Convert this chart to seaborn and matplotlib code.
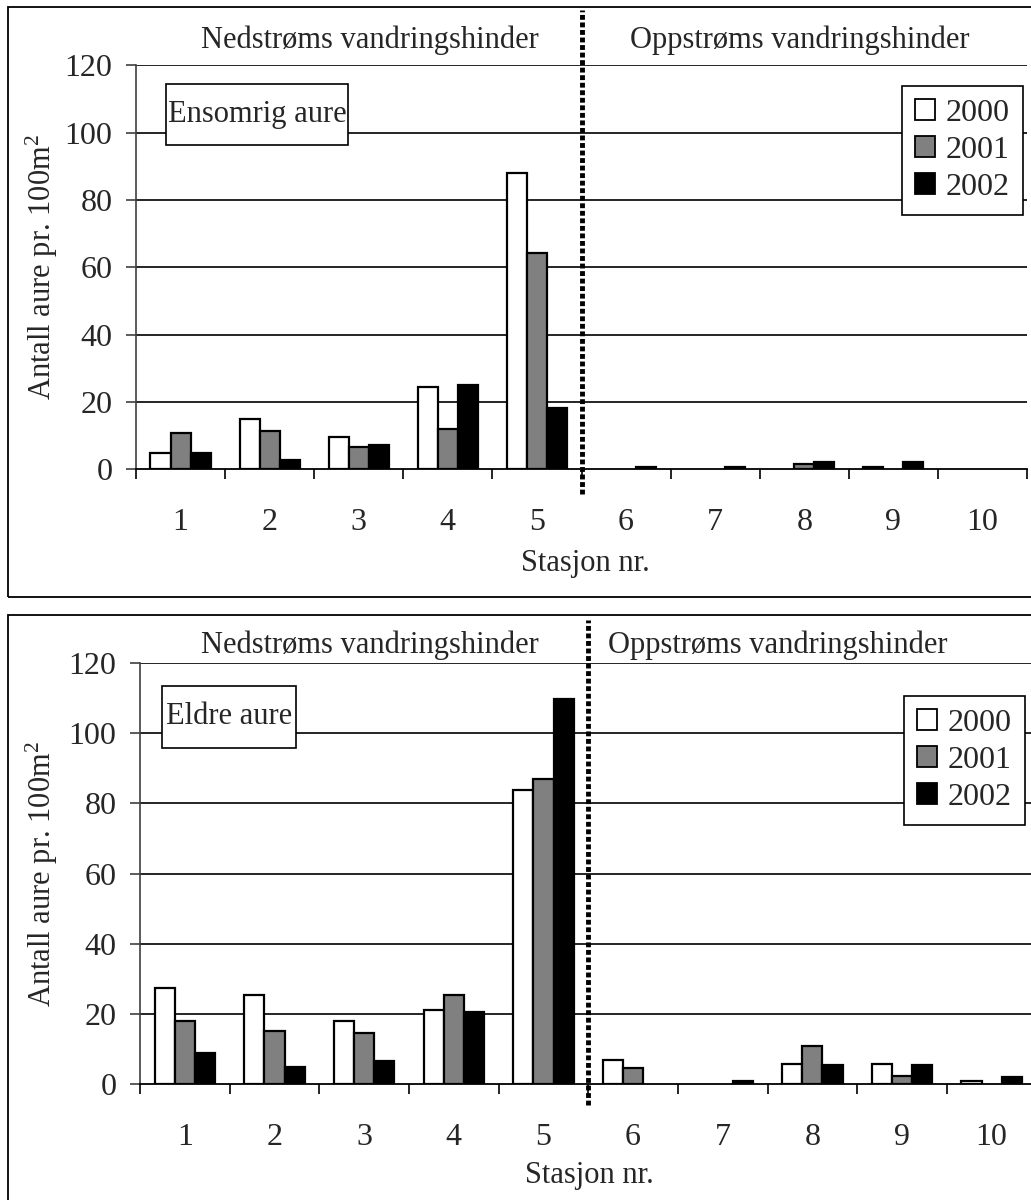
import numpy as np
import pandas as pd
import matplotlib
matplotlib.use("Agg")
import matplotlib.pyplot as plt
import seaborn as sns
from matplotlib.patches import Rectangle, Patch

# Stations and sampling years
stations = ["1", "2", "3", "4", "5", "6", "7", "8", "9", "10"]
years = ["2000", "2001", "2002"]

# Density of young-of-the-year trout (fish per 100 m2)
ensomrig_2000 = [4.8, 14.8, 9.5, 24.4, 88.1, 0.0, 0.0, 0.0, 0.8, 0.0]
ensomrig_2001 = [10.9, 11.4, 6.5, 12.0, 64.1, 0.0, 0.0, 1.5, 0.0, 0.0]
ensomrig_2002 = [4.9, 2.7, 7.3, 25.1, 18.1, 0.8, 0.8, 2.1, 2.1, 0.0]

# Density of older trout (fish per 100 m2)
eldre_2000 = [27.4, 25.2, 17.8, 21.1, 83.9, 6.8, 0.0, 5.7, 5.7, 0.8]
eldre_2001 = [17.8, 15.0, 14.4, 25.2, 86.9, 4.6, 0.0, 10.9, 2.3, 0.0]
eldre_2002 = [8.8, 4.8, 6.5, 20.4, 109.7, 0.0, 0.8, 5.4, 5.4, 1.9]

yticks = [0, 20, 40, 60, 80, 100, 120]
bar_colors = ["#ffffff", "#808080", "#000000"]

sns.set_theme(style="white")
plt.rcParams["font.family"] = ["Liberation Serif", "DejaVu Serif"]
plt.rcParams["mathtext.fontset"] = "custom"
plt.rcParams["mathtext.rm"] = "Liberation Serif"
plt.rcParams["mathtext.it"] = "Liberation Serif:italic"
plt.rcParams["mathtext.bf"] = "Liberation Serif:bold"

W, H = 1031, 1200
fig = plt.figure(figsize=(W / 100, H / 100), dpi=100)


def fx(px):
    return px / W


def fy(py):
    return 1 - py / H


def long_form(v2000, v2001, v2002):
    rows = []
    for yr, vals in zip(years, [v2000, v2001, v2002]):
        for st, v in zip(stations, vals):
            rows.append({"Stasjon": st, "År": yr, "Antall": v})
    return pd.DataFrame(rows)


def draw_panel(values, title, ax_px, frame_px, headers, divider_px,
               label_box, legend_px, xlabel_y):
    l, t, r, b = frame_px
    fig.patches.append(Rectangle((fx(l), fy(b)), (r - l) / W, (b - t) / H,
                                 transform=fig.transFigure, fill=False,
                                 edgecolor="black", lw=1.3, zorder=0))

    al, at, ar, ab = ax_px
    ax = fig.add_axes([fx(al), fy(ab), (ar - al) / W, (ab - at) / H])
    df = long_form(*values)
    sns.barplot(data=df, x="Stasjon", y="Antall", hue="År", order=stations,
                hue_order=years, palette=bar_colors, saturation=1,
                edgecolor="black", linewidth=1.6, width=0.675, gap=0,
                errorbar=None, legend=False, ax=ax, zorder=3)
    for p in ax.patches:
        if p.get_height() == 0:
            p.set_visible(False)

    ax.set_xlim(-0.5, 9.5)
    ax.set_ylim(0, 120)
    ax.set_xlabel("")
    ax.set_ylabel("")
    for s in ["top", "right"]:
        ax.spines[s].set_visible(False)
    ax.spines["left"].set_color("#404040")
    ax.spines["left"].set_linewidth(1.2)
    ax.spines["bottom"].set_color("black")
    ax.spines["bottom"].set_linewidth(1.3)

    ax.set_yticks(yticks)
    ax.set_yticklabels([str(v) for v in yticks], fontsize=23)
    ax.tick_params(axis="y", direction="out", length=7, width=1.2,
                   color="#404040", pad=10, left=True)
    for v in yticks[1:]:
        ax.axhline(v, color="black", lw=1.2, zorder=1)

    ax.set_xticks(range(len(stations)))
    ax.set_xticklabels(stations, fontsize=23)
    ax.tick_params(axis="x", which="major", length=0, pad=28)
    ax.set_xticks(np.arange(-0.5, len(stations), 1), minor=True)
    ax.tick_params(axis="x", which="minor", direction="out", length=7,
                   width=1.2, color="black", bottom=True)

    # boundary between downstream and upstream stations
    y_top = (ab - divider_px[0]) / (ab - at)
    y_bot = (ab - divider_px[1]) / (ab - at)
    ax.plot([4.5, 4.5], [y_bot, y_top], color="black", lw=3.5,
            linestyle=(0, (1, 0.55)), dash_capstyle="butt",
            transform=ax.get_xaxis_transform(), clip_on=False, zorder=5)

    down_x, up_x, base_y = headers
    fig.text(fx(down_x), fy(base_y), "Nedstrøms vandringshinder",
             ha="center", va="baseline", fontsize=22)
    fig.text(fx(up_x), fy(base_y), "Oppstrøms vandringshinder",
             ha="center", va="baseline", fontsize=22)

    bl, bt, br, bb = label_box
    fig.patches.append(Rectangle((fx(bl), fy(bb)), (br - bl) / W, (bb - bt) / H,
                                 transform=fig.transFigure, facecolor="white",
                                 edgecolor="black", lw=1.2, zorder=6))
    fig.text(fx((bl + br) / 2), fy((bt + bb) / 2), title, ha="center",
             va="center", fontsize=22, zorder=7)

    handles = [Patch(facecolor=c, edgecolor="black", linewidth=1.3)
               for c in bar_colors]
    leg = ax.legend(handles, years, loc="upper left",
                    bbox_to_anchor=(fx(legend_px[0]), fy(legend_px[1])),
                    bbox_transform=fig.transFigure, borderaxespad=0,
                    fontsize=23, frameon=True, fancybox=False, framealpha=1,
                    edgecolor="black", handlelength=0.62, handleheight=0.62,
                    handletextpad=0.35, labelspacing=0.25, borderpad=0.4)
    leg.get_frame().set_linewidth(1.2)
    leg.set_zorder(8)

    fig.text(fx(42), fy((at + ab) / 2), "Antall aure pr. 100m$^{2}$",
             rotation=90, ha="center", va="center", fontsize=22)
    fig.text(fx((al + min(ar, W)) / 2 + 4), fy(xlabel_y), "Stasjon nr.",
             ha="center", va="center", fontsize=22)
    return ax


draw_panel((ensomrig_2000, ensomrig_2001, ensomrig_2002), "Ensomrig aure",
           ax_px=(136, 65.3, 1027, 469.3), frame_px=(8, 7.3, 1045, 597),
           headers=(370, 800, 48), divider_px=(10, 494),
           label_box=(166, 84, 348, 145), legend_px=(902, 86),
           xlabel_y=563)

draw_panel((eldre_2000, eldre_2001, eldre_2002), "Eldre aure",
           ax_px=(140, 663.3, 1036.5, 1083.8), frame_px=(8, 615, 1045, 1215),
           headers=(370, 778, 653), divider_px=(620, 1105),
           label_box=(162, 686, 296, 748), legend_px=(904, 696),
           xlabel_y=1175)

fig.savefig("out.png", dpi=100)
